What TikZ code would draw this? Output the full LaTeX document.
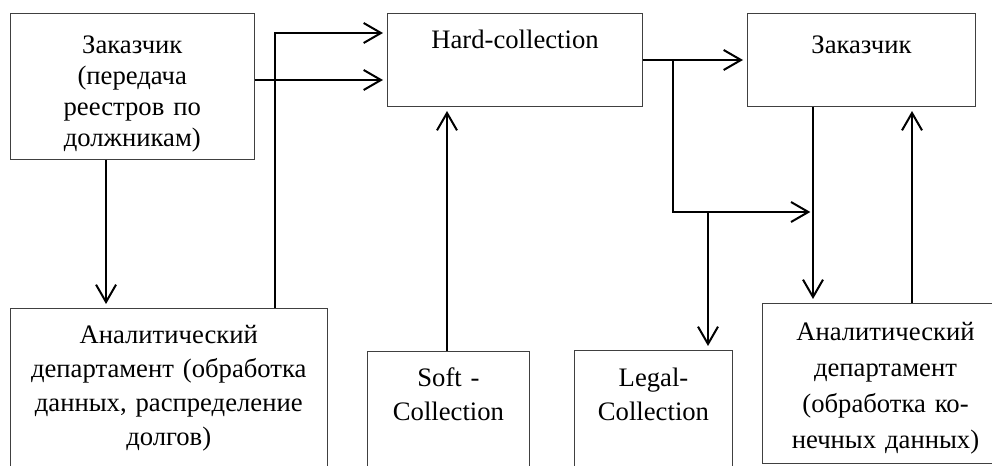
\documentclass[tikz,border=0pt]{standalone}
\usepackage{fontspec}
\setmainfont{Liberation Serif}
\usetikzlibrary{arrows.meta}

\tikzset{
	box/.style = {draw = black!75, line width = 0.75pt, rectangle, inner sep = 0pt,
		anchor = north west, align = center},
	link/.style = {line width = 1.5pt, ->, shorten > = 3pt}
}

\begin{document}
\begin{tikzpicture}[> = {Straight Barb[length = 13pt, width = 15pt]}, x = 0.75pt, y = -0.75pt]

	% Frame
	
	\useasboundingbox (0, 0) rectangle (992, 466);
	
	% Boxes
	
	\node [box, text width = 183.4pt, text height = 30pt, text depth = 79.5pt,
		font = \fontsize{20}{23.25}\selectfont] (customer) at (9.5, 13)
		{Заказчик\\(передача\\реестров по\\должникам)};
	\node [box, text width = 238.1pt, text height = 26.25pt, text depth = 108.75pt,
		font = \fontsize{20}{25.5}\selectfont] (analysis) at (9.5, 308)
		{Аналитический\\департамент (обработка\\данных, распределение\\долгов)};
	\node [box, text width = 191.25pt, text height = 26.25pt, text depth = 43.5pt,
		font = \fontsize{20}{25.5}\selectfont] (hard) at (387, 13)
		{Hard-collection};
	\node [box, text width = 121.5pt, text height = 26.25pt, text depth = 76.5pt,
		font = \fontsize{20}{25.5}\selectfont] (soft) at (367, 351)
		{Soft -\\Collection};
	\node [box, text width = 118.5pt, text height = 27pt, text depth = 76.5pt,
		font = \fontsize{20}{25.5}\selectfont] (legal) at (574, 350)
		{Legal-\\Collection};
	\node [box, text width = 171pt, text height = 30pt, text depth = 39.75pt,
		font = \fontsize{20}{25.5}\selectfont] (customerend) at (747, 13)
		{Заказчик};
	\node [box, text width = 184.5pt, text height = 27.75pt, text depth = 92.25pt,
		font = \fontsize{20}{27}\selectfont] (analysisend) at (762, 303)
		{Аналитический\\департамент\\(обработка ко-\\нечных данных)};
	
	% Points
	
	\coordinate (fork) at ([xshift = 22.5pt, yshift = -35.25pt]hard.north east);
	\coordinate (knee) at ([yshift = -114pt]fork);
	\coordinate (down) at ([xshift = 49.5pt]customerend.south west);
	
	% Arrows
	
	\draw [link] ([xshift = 72.4pt]customer.south west) -- ([xshift = 72.4pt]customer.south west |- analysis.north);
	\draw [link] ([xshift = 199.1pt]analysis.north west) |- ([yshift = -15pt]hard.north west);
	\draw [link] ([yshift = -50.25pt]customer.north east) -- ([yshift = -50.25pt]customer.north east -| hard.west);
	\draw [link] ([xshift = 60pt]soft.north west) -- ([xshift = 60pt]soft.north west |- hard.south);
	\draw [link] ([yshift = -35.25pt]hard.north east) -- ([yshift = -35.25pt]hard.north east -| customerend.west);
	\draw [link, shorten > = 2pt] (fork) -- (knee) -- (knee -| down);
	\draw [link] ([xshift = 26.25pt]knee) -- ([xshift = 26.25pt]knee |- legal.north);
	\draw [link] (down) -- (down |- analysisend.north);
	\draw [link] ([xshift = 112.5pt]analysisend.north west) -- ([xshift = 112.5pt]analysisend.north west |- customerend.south);

\end{tikzpicture}
\end{document}
